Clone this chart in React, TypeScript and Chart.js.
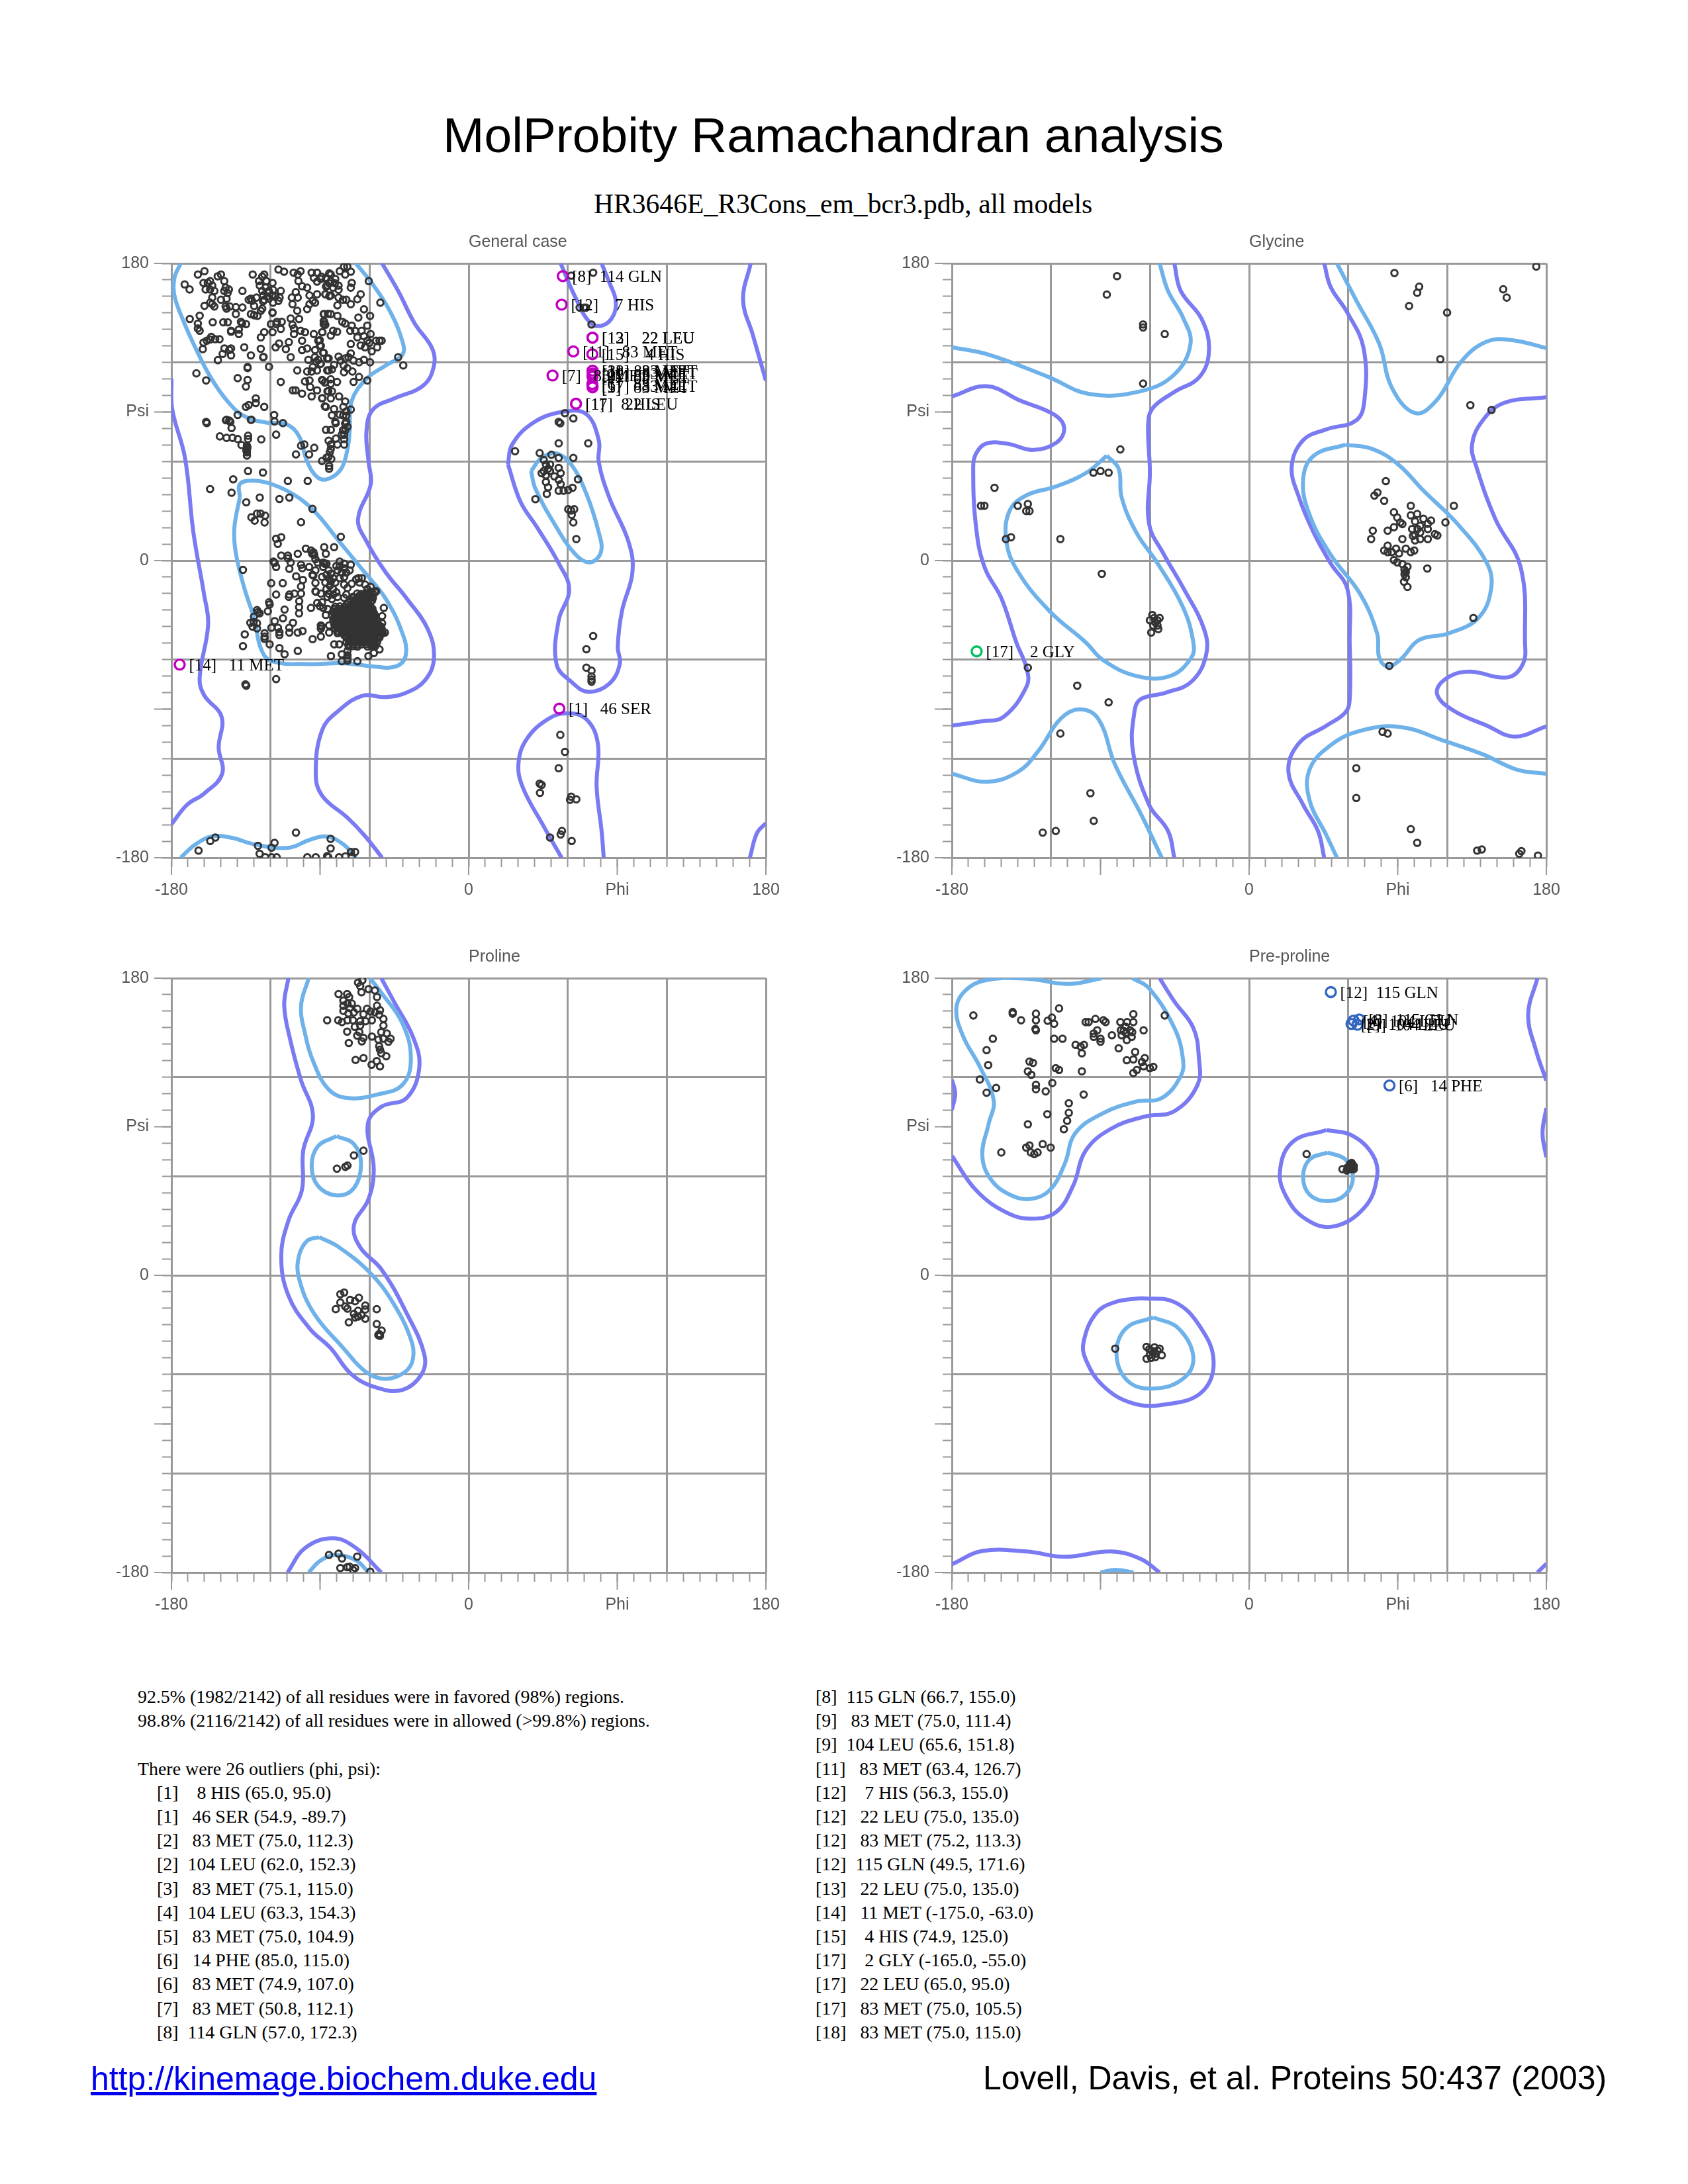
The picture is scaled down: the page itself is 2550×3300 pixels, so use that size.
import React, { useEffect, useRef } from "react";
import { Chart, registerables } from "chart.js";

Chart.register(...registerables);

type Pair = [number, number];
type Outlier = { model: number; res: string; phi: number; psi: number };

// ---------- residue points (phi, psi) ----------
const generalUpperLeft: Pair[] = [
  [-160,175.3],[-164,173.3],[-172,167.3],[-169,164.2],[-150,173.3],[-152,172.2],[-160.6,168.2],[-156.6,169.3],[-158,168.2],[-155.3,166.6],[-159.3,164.2],[-156.6,164.2],[-154,163.3],[-148,169.3],[-147.2,165.3],[-145.2,164.2],[-148,163.3],[-137,163.3],[-130.8,173.3],[-123.8,173.3],[-125,172],[-127,169.3],[-122.5,169.3],[-126.5,166.6],[-118.8,168.2],[-123,165.3],[-125,163.3],[-121,163.3],[-118.5,164],[-113.8,163.3],[-124.5,160.6],[-121.8,160],[-119,160.6],[-123.8,158],[-121,158.6],[-117,160],[-114.5,159.3],[-118.5,156.2],[-115.2,157.3],[-124.5,157],[-128.5,159.3],[-131.9,158.6],[-133.2,158],[-131.2,157.3],[-129.9,154.2],[-125,152.6],[-125.9,151.3],[-131.9,149.3],[-129.9,148.6],[-127.9,148.2],[-118.8,150.3],[-118.8,150],[-155.3,159.3],[-154,153.9],[-160,154.3],[-156.6,156.2],[-155.3,155.3],[-150,158],[-146.6,158.6],[-146,162],[-147.2,153.9],[-144.6,153.9],[-146.6,152.6],[-141,153.5],[-137,153.3],[-141,149.3],[-162.9,148.3],[-168.9,146.3],[-155,144.3],[-148.6,144.3],[-145.9,144.3],[-164,143.5],[-164,140.6],[-162.9,139.2],[-143.9,139.2],[-143.9,138.6],[-139.2,139.9],[-139.2,137.2],[-137.9,144.6],[-137.2,143.6],[-134.8,143.2],[-155.9,135.5],[-158.6,133.2],[-160.6,132.1],[-156.6,133.9],[-153.5,134.1],[-150.9,134.1],[-161,128.1],[-147.9,128.5],[-143.9,128.5],[-145,127.6],[-149,125.2],[-143.9,124.3],[-151.9,121.4],[-135.9,129.2],[-131.9,124.3],[-125.9,128.3],[-124.5,123.2],[-124.2,123.4],[-125.9,135.2],[-123.8,138.3],[-119.8,143.2],[-118.8,138.3],[-116.1,144.6],[-113.2,144.6],[-116.5,143.2],[-113.8,140.3],[-116.9,129.2],[-114.8,131.5],[-110.7,128.1],[-108.9,132.3],[-107.8,123.2],[-107.8,146.6],[-102.7,146.3],[-106.7,142.8],[-105.8,140.6],[-105.8,137.2],[-101.8,139.2],[-99.1,138.3],[-93.8,137.2],[-88.7,138.3],[-100.9,133.2],[-100.9,127.5],[-97.8,128.5],[-91.1,133.2],[-90.2,130.1],[-93,127.5],[-87.8,149.3],[-87.8,145],[-87.8,143.2],[-85.2,149.5],[-115.2,176.3],[-111.8,175],[-106,174.4],[-103.5,173.3],[-101.8,175.3],[-103.1,169.3],[-100.9,166.2],[-97.8,165.3],[-104.7,162.6],[-107.1,159.3],[-103.5,159.3],[-106.7,155.3],[-103.8,151.3],[-97.8,152.3],[-96.4,160.6],[-94.4,157.3],[-96.4,155.3],[-93,156.2],[-91.8,161.3],[-95.1,174.4],[-91.8,174.4],[-93.8,171.3],[-91.8,169],[-89.1,172],[-86.4,170.6],[-84.4,174],[-86.4,166],[-86.7,161.3],[-84.4,160.2],
  [-164.9,113.4],[-159,109.1],[-139.9,110.5],[-133.9,109.4],[-134.9,105.4],[-133.9,117.2],[-133.9,116.6],[-120.9,117.4],[-113.8,108.2],[-103.8,115.2],[-128.9,98.2],[-128.9,95.4],[-133.2,94.2],[-134.9,93.1],[-123.8,93.1],[-139.9,88.2],[-117.8,88.2],[-131.9,85.3],[-146.6,85.3],[-145,84.8],[-159,84],[-106.5,103.1],[-104.8,103.1],[-100.9,101.1],[-95.1,99.4],[-91.8,103.1],[-88.8,98.2],[-87.1,93.4],[-99.1,108.5],[-96.4,109.1],[-96,105.1],[-88.4,109.1],[-87.1,107.8],[-97.8,114.5],[-95.1,114.5],[-94.4,117.2],[-91.8,115.2],[-85.7,115.2],[-85,102.5],[-97.1,121.6],[-93.1,123.2],[-91.1,121.6],[-87.8,125.9],[-85.7,122.5],[-89.8,119.2],[-92.4,120.5],
];

const generalUpperRight: Pair[] = [
  [-75.5,178],[-73.5,178],[-78.1,175.3],[-74.8,173.3],[-71.4,175],[-60.5,169.3],[-70.8,168.2],[-71.4,165.3],[-65.4,161.3],[-67.4,158.3],[-71.4,155.3],[-74.1,158],[-76.1,158],[-79.5,154.6],[-78.8,159.3],[-83.5,160.6],[-86.8,161.3],[-53.5,156.2],[-89.5,170.6],[-86.2,171.3],[-83.5,173.3],[-83.5,169.3],[-80.8,170.6],[-78.8,166.6],[-85.5,166.6],[-82.1,165.3],[-78.8,164],[-81,168],[-84.5,168],[-63.4,152.2],[-66.8,147.2],[-59.7,148.2],[-61.4,142.3],[-87.5,149.3],[-83.5,149.3],[-79.5,148.2],[-87.5,144.6],[-86.8,142.8],[-76.5,144.6],[-74.8,143.6],[-70.8,142.3],[-71.7,139.2],[-68.8,139.2],[-64.8,139.2],[-88.6,138.3],[-82.1,139.2],[-79.7,138.6],[-83.5,136.3],[-67.4,135.2],[-63.4,135.9],[-59.4,137.2],[-61.4,133.2],[-71.4,131.2],[-65.4,130.3],[-62.8,129.2],[-60.1,131.9],[-58.7,126.8],[-55.4,129.2],[-56.1,133.2],[-52.7,133.2],[-54,133.2],[-90.2,133.5],[-89.5,130.1],[-42.7,123.2],[-39.6,118.2],[-88.2,125.9],[-84.8,122.5],[-78.8,123.6],[-71.4,125.5],[-74.8,122.5],[-72.8,123.2],[-77.5,121.2],[-69.8,121.2],[-66.4,120.1],[-63.4,121.6],[-59.7,120.1],[-89.5,119.2],[-81.5,118.5],[-82.8,115.8],[-84.8,115.2],[-75.7,118.2],[-75.5,114.1],[-73.5,116.5],[-70.4,114.5],[-66.4,111.2],[-69.7,108.2],[-61.4,109.1],[-88.8,109.4],[-86.8,108.1],[-83.5,109.8],[-83.5,107.1],[-79.7,108.2],[-85.5,102.5],[-82.8,102.5],[-78.5,99.4],[-88.6,98.4],[-83.5,98.2],[-74.8,96.4],[-86.5,93.1],[-75.9,93.1],[-71.4,91.5],[-81.5,91.8],[-82.8,88],[-78.1,88.4],[-74.1,87.8],[-74.1,90.4],[-76,88],[-80.8,84],[-74.1,84],
];

const generalMiddle: Pair[] = [
  [-158.6,83.3],[-147,85],[-144.3,84],[-143.6,80.3],[-131.6,85.3],[-117.6,84.3],[-112.5,83.3],[-116.6,76.3],[-150.7,75.2],[-146.6,74.3],[-143,74.3],[-139.9,73.6],[-137.6,70],[-133.6,75.6],[-133.6,73.6],[-125.6,73.4],[-134.3,69.6],[-134.3,67.6],[-134.3,65.6],[-134.3,63.6],[-134,68.5],[-134.6,66.6],[-101.5,69.6],[-99.5,70.3],[-93.5,68.3],[-104.6,64.3],[-96.6,64.3],[-86.4,79.2],[-83.5,79.2],[-80.5,83.3],[-84.8,72.6],[-80.4,73.9],[-79.5,70.3],[-75.4,70.3],[-74.8,83],[-76.1,79],[-74.7,79],[-75.4,76.3],[-73.4,81],[-76.8,76.3],[-75.4,73.6],[-83.5,70.3],[-83.5,67.6],[-84.1,65.6],[-84.8,62.9],[-83.2,61.6],[-88.8,60.3],[-86.1,62.3],[-84.5,57.3],[-84.5,55.6],[-133.6,54.2],[-124.6,53.3],[-142.6,49.2],[-156.6,43.3],[-143.6,41.1],[-109.5,48.2],[-97.5,48.2],[-134.7,35.3],[-126.5,38.2],[-114.6,37.3],[-108.6,38.2],[-94.6,31.3],[-131.6,26.2],[-129.6,24.2],[-128.2,28.4],[-126,28.4],[-123.3,27.2],[-123.6,23.1],[-101.5,23.2],[-77.4,14.4],[-113.5,14.1],[-116.6,13.2],[-115.6,10.1],[-81.5,8.1],[-87.5,8.1],[-98.6,7.2],[-86.5,4.1],[-103.5,4.1],[-113.5,3],[-109.5,3],[-94.8,4.1],[-95.5,6.1],[-93.5,3.4],[-92.8,0.8],[-91.5,-1.2],[-94,5],[-109.5,1.4],[-107.8,-1.2],[-118.2,-0.6],[-117.5,-1.4],[-116.6,-3.9],[-108.6,-5],[-101.5,-2.6],[-100.8,-4.6],[-96.6,-3.9],[-136.7,-5.6],[-87.2,-1.9],[-92.8,-5.9],[-94.6,-8.6],[-104.5,-9.5],[-100.4,-11.7],[-119.6,-13.7],[-112.6,-13.7],[-101.5,-15.7],[-92.8,-13.5],[-116.6,-20.6],[-108.6,-20.6],[-105.5,-20],[-101.5,-20],[-92.5,-18.9],[-108.9,-22],[-102.6,-24.6],[-120.9,-25.3],
];

const generalHelixRim: Pair[] = [
  [-88.1,-1.2],[-86.1,-1.9],[-88.1,-3.9],[-94.1,-9],[-78.1,-0.6],[-75.4,-1.9],[-71.4,-2.6],[-80.1,-3.3],[-78.1,-3.3],[-75.4,-4.6],[-72.1,-5.9],[-79.4,-5.9],[-76.8,-7.3],[-74.1,-7.3],[-75.4,-10],[-78.1,-10.6],[-84.8,-5.9],[-83.4,-7.9],[-88.8,-9.9],[-86.1,-8.6],[-82.1,-10.6],[-84.5,-10.8],[-86.8,-13.3],[-83.4,-12.6],[-80.8,-13.3],[-84.1,-15.3],[-82.1,-17.3],[-86.1,-17.3],[-84.8,-20],[-82.1,-20.6],[-80.1,-19.3],[-85.5,-22],[-82.8,-23.3],[-79.4,-22],[-75.4,-14.6],[-73.4,-16.6],[-70.8,-14],[-66.7,-10.6],[-64.7,-10.6],[-68.1,-11.3],[-66.1,-13.3],[-62.7,-14.6],[-59.4,-16],[-61.4,-17.3],[-56.7,-19.3],[-56,-18.6],[-59.4,-18.8],[-74.1,-20.6],[-75.4,-22.6],[-70.1,-22],
  [-120.5,-26.6],[-121.6,-30.7],[-111.5,-29.7],[-128.2,-30],[-127.6,-31.3],[-126.6,-32],[-130,-34],[-132.2,-37.7],[-130.2,-37.3],[-128.2,-38],[-130.9,-40],[-128.2,-41.1],[-135.6,-44.7],[-136.7,-51.8],[-123.6,-44],[-123.6,-46],[-123.6,-47.4],[-120.5,-50.7],[-119.5,-40.7],[-117.5,-36.7],[-112.5,-35],[-115.5,-40.7],[-114.6,-43.4],[-114.6,-45.1],[-108.6,-40.7],[-108.6,-43.6],[-106.4,-37.7],[-103.5,-43.6],[-100.6,-42.7],[-114.6,-53],[-111.5,-56.7],[-103.5,-54.7],[-94.5,-47.6],[-89.5,-46],[-116.6,-71.8],[-135.2,-75],[-134.7,-75.8],[-135,-75.4],[-102.7,-28.2],[-102.7,-32],[-95.5,-28.7],[-92.8,-18.6],[-89.5,-20],[-91.7,-25.7],[-88.8,-25.3],[-90.1,-27.7],[-88.1,-28.7],[-86.5,-33],[-85.5,-29.3],[-89.5,-39.3],[-89.5,-41.3],[-84.5,-39.3],[-84.5,-43.6],[-89.2,-40],[-81.4,-50.7],[-78.4,-50.7],[-83.4,-57.8],[-76.8,-56.7],[-76.8,-61],[-73.4,-54.7],[-73.4,-57.4],[-73.4,-59.4],[-73.4,-60.7],[-67.4,-61],[-60.7,-57.8],[-57.4,-56],[-54,-53.8],[-51.4,-28.7],[-52.4,-33.7],[-52.4,-38],[-50.7,-43.6],[-52,-44],[-53,-40],
];

const generalHelixCore: Pair[] = [
  [-67.5,-20],[-65,-20.3],[-62.4,-19.8],[-60,-20.2],[-58,-20],
  [-70,-22.6],[-67.3,-22.4],[-64.6,-22.8],[-62,-22.5],[-59.8,-22.7],[-58,-22.5],
  [-72.7,-25.3],[-70,-25],[-67.4,-25.5],[-64.7,-25.2],[-62,-25.4],[-59.3,-25.1],
  [-80.8,-28],[-78,-27.8],[-75.4,-28.2],[-72.7,-28],[-70,-27.8],[-67.3,-28.1],[-64.6,-28],[-62,-27.9],[-59.3,-28.2],
  [-82,-30.7],[-79.3,-30.5],[-76.6,-30.8],[-74,-30.6],[-71.3,-30.9],[-68.6,-30.6],[-66,-30.8],[-63.3,-30.5],[-60.6,-30.7],[-58,-30.8],
  [-82.8,-33.3],[-80,-33.1],[-77.4,-33.4],[-74.7,-33.2],[-72,-33.5],[-69.3,-33.2],[-66.7,-33.4],[-64,-33.1],[-61.3,-33.3],[-58.7,-33.4],[-56.7,-33.2],
  [-82,-36],[-79.4,-35.8],[-76.7,-36.2],[-74,-35.9],[-71.3,-36.1],[-68.6,-35.8],[-66,-36.2],[-63.3,-36],[-60.6,-35.8],[-58,-36.1],[-56,-36],
  [-81.4,-38.7],[-78.7,-38.5],[-76,-38.9],[-73.3,-38.6],[-70.7,-38.8],[-68,-38.5],[-65.3,-38.7],[-62.6,-38.9],[-60,-38.6],[-57.3,-38.8],[-54.7,-38.7],
  [-80.8,-41.3],[-78,-41.1],[-75.4,-41.5],[-72.7,-41.2],[-70,-41.4],[-67.4,-41.1],[-64.7,-41.3],[-62,-41.5],[-59.4,-41.2],[-56.7,-41.4],[-54,-41.3],[-52.7,-41.2],
  [-79.4,-44],[-76.7,-43.8],[-74,-44.2],[-71.4,-43.9],[-68.7,-44.1],[-66,-43.8],[-63.3,-44],[-60.7,-44.2],[-58,-43.9],[-55.3,-44.1],[-52.7,-43.8],
  [-74,-46.7],[-71.3,-46.5],[-68.6,-46.8],[-66,-46.6],[-63.3,-46.8],[-60.6,-46.5],[-58,-46.7],[-55.3,-46.9],[-54,-46.6],
  [-74,-49.4],[-71.3,-49.2],[-68.6,-49.5],[-66,-49.3],[-63.3,-49.5],[-60.6,-49.2],[-58,-49.4],[-55.4,-49.3],
  [-72.7,-52],[-70,-51.8],[-67.3,-52.1],[-61.3,-52],[-58.6,-51.8],[-56.7,-52],
];

const generalHelixCoreFill: Pair[] = [
  [-66.2,-21.3],[-63.6,-21.2],[-61,-21.4],[-58.9,-21.2],
  [-71.4,-24],[-68.7,-23.9],[-66,-24.1],[-63.3,-23.9],[-60.7,-24],[-58.5,-24.2],
  [-74,-26.7],[-71.3,-26.6],[-68.7,-26.8],[-66,-26.6],[-63.3,-26.7],[-60.6,-26.6],
  [-81.4,-29.3],[-78.7,-29.2],[-76,-29.4],[-73.3,-29.3],[-70.7,-29.4],[-68,-29.2],[-65.3,-29.4],[-62.7,-29.3],[-60,-29.4],[-58.3,-29.2],
  [-81.4,-32],[-78.7,-31.9],[-76,-32.1],[-73.3,-31.9],[-70.7,-32.1],[-68,-32],[-65.3,-31.9],[-62.7,-32.1],[-60,-32],[-57.3,-32],
  [-81.4,-34.7],[-78.7,-34.5],[-76,-34.8],[-73.3,-34.6],[-70.7,-34.7],[-68,-34.5],[-65.3,-34.8],[-62.7,-34.6],[-60,-34.7],[-57.3,-34.6],
  [-80.7,-37.3],[-78,-37.2],[-75.3,-37.4],[-72.7,-37.2],[-70,-37.4],[-67.3,-37.3],[-64.7,-37.2],[-62,-37.4],[-59.3,-37.3],[-56.7,-37.2],
  [-80,-40],[-77.4,-39.9],[-74.7,-40.1],[-72,-40],[-69.3,-39.9],[-66.7,-40.1],[-64,-40],[-61.3,-39.9],[-58.7,-40.1],[-56,-40],[-53.8,-40.2],
  [-79.5,-42.7],[-76.8,-42.5],[-74,-42.8],[-71.4,-42.6],[-68.7,-42.8],[-66,-42.6],[-63.3,-42.7],[-60.7,-42.5],[-58,-42.8],[-55.3,-42.6],[-53,-42.7],
  [-75.3,-45.3],[-72.7,-45.2],[-70,-45.4],[-67.3,-45.2],[-64.7,-45.4],[-62,-45.2],[-59.3,-45.3],[-56.7,-45.2],[-54,-45.4],
  [-72.7,-48],[-70,-47.9],[-67.3,-48.1],[-64.7,-47.9],[-62,-48.1],[-59.3,-48],[-56.7,-47.9],
  [-72.7,-50.7],[-70,-50.6],[-67.3,-50.8],[-64.7,-50.7],[-62,-50.6],[-59.3,-50.8],[-56.7,-50.6],
];

const generalBottom: Pair[] = [
  [-163.6,-175.7],[-156.5,-169.9],[-153.4,-167.8],[-127.6,-172.8],[-119.4,-173.9],[-117.6,-171],[-126.6,-177.6],[-123.2,-179.7],[-119.4,-179.7],[-116.3,-179.7],[-104.6,-164.8],[-97.7,-179.7],[-92.6,-179.7],[-85.7,-179],[-85,-179.7],[-83.6,-168.6],[-83.6,-174.4],[-78.5,-179.7],[-74.7,-179.2],[-71.3,-176.5],[-68.8,-176.5],[-70.8,-179.2],
];

const generalLeftHanded: Pair[] = [
  [75.4,174.4],[62.1,172.6],[67.2,153.2],[69.8,153.2],[71.1,153.2],[74.4,143],[58.3,89.3],[63.4,86.1],[54.5,84],[55.5,83.2],[54.5,71],[72.4,71],[28.1,66.2],[43,65.1],[50.1,64.1],[54.5,62.2],[63.4,62.2],[45.5,60.9],[46.8,58.2],[49.3,58.2],[48.1,55.6],[45.5,54.2],[44.2,52.9],[46.8,51.6],[49.3,54.2],[54.5,56.1],[55.7,52.9],[51.9,51],[54.5,48.9],[55.7,46.3],[46.8,47.6],[48.1,44.4],[47.3,40.4],[54.5,42.3],[57.5,42.3],[60.3,42.8],[62.9,44.1],[66.2,49.2],[40.4,37.2],[60.3,31.1],[63.9,31.1],[62.1,30.3],[62.4,27.7],[63.4,23.1],[65.2,13],[75.4,-45.7],[71.3,-53.7],[71.3,-64.9],[74.4,-66.7],[74.4,-70.2],[74.4,-72],[74.4,-73.4],[55.5,-105.6],[58.3,-115.9],[54.5,-125.8],[43,-135.1],[44.2,-135.9],[43.2,-140.7],[62.1,-143],[61.4,-144.9],[65.2,-144.6],[49.3,-167.8],[55.7,-165.9],[56.5,-163.8],[62.4,-169.9],
];

const glycinePoints: Pair[] = [
  [-80,172.3],[-86.2,161.1],[-64.2,143],[-64.2,141.2],[-51.1,137.2],[-64.2,107.2],[-78,67.3],[-94.3,53.2],[-90,54.2],[-85.1,53.2],[-154.2,44.1],[-162.4,33.2],[-160.3,33.2],[-140.1,33.2],[-134,34.3],[-135,30],[-133,30],[-147.3,13],[-144.2,14.1],[-114.3,13],[-89.2,-8],[-58.6,-33],[-54.2,-34.8],[-60.1,-36.2],[-55.5,-36.2],[-58,-39.4],[-55.5,-39.4],[-59.3,-43.6],[-55,-41.5],[-57.5,-34.8],[-56.8,-37.5],[-134,-64.9],[-104.1,-75.8],[-85.1,-85.9],[-114.3,-104.8],[-96.1,-140.9],[-94.1,-157.7],[-125,-164.8],[-117.1,-163.8],
  [88,174.2],[103,165.9],[101.8,162.2],[96.9,154.2],[119.9,150.2],[153.9,164.3],[156,159.3],[173.9,178.1],[115.8,122],[134,94.1],[146.8,91.2],[82.8,48.1],[75.9,39.4],[77.7,41.2],[81.8,36.2],[97.9,33.2],[124,33.2],[118.9,23.1],[87.7,29.2],[89.7,26.1],[91.5,23.1],[92.8,22.1],[87.7,20.2],[83.9,18.1],[74.9,18.1],[73.9,13],[92.8,13],[97.9,27.4],[101.8,28.2],[100.5,23.7],[105.6,25.3],[110.2,24.2],[108.2,22.3],[103.6,21],[98.7,19.1],[102,19.1],[108.2,19.1],[100.5,15.7],[103.6,17],[112.5,16],[114,15.2],[108.2,13],[103.6,13],[100.5,12.2],[99.2,14.9],[83.9,9],[81.8,6.1],[83.9,5.1],[86.4,5.1],[89,7.2],[90.8,4.3],[94.9,7.2],[97.9,5.1],[100,6.1],[87.7,0.3],[89.7,-1.1],[92.8,-2.1],[95.9,-3.7],[94.1,-5.6],[94.9,-6.9],[94.1,-8.2],[94.9,-10.1],[93.8,-12.8],[95.9,-16],[107.9,-4.8],[135.8,-34.8],[84.9,-63.8],[80.8,-103.7],[83.9,-104.8],[64.9,-125.8],[64.9,-143.8],[97.9,-162.7],[101.8,-171],[138.1,-175.7],[140.9,-175],[163.6,-177.6],[164.9,-176],[174.9,-178.7],
];

const prolinePoints: Pair[] = [
  [-67,177.3],[-64.4,178.7],[-65.7,175.2],[-64.9,171.5],[-60.6,173.4],[-56.8,172.6],[-55.5,168.6],[-78.8,170.4],[-73.6,170.4],[-72.4,168.6],[-75.9,166.4],[-73.4,164.6],[-70.8,164.6],[-75.9,163.3],[-72,161.9],[-67.4,161.4],[-75.9,160.2],[-72.8,158.7],[-69.5,159.3],[-61.6,161.4],[-63.7,158.2],[-59.4,159.8],[-55.5,163.3],[-53.7,160.6],[-56.8,159.3],[-54.2,157.9],[-51.6,155.3],[-85.7,154.5],[-79,154.5],[-76.7,153.4],[-73.4,154.5],[-70.1,154.5],[-65.7,153.9],[-62.4,153.9],[-58.6,154.5],[-69,150.5],[-65.7,151.3],[-51.6,151.3],[-73.6,147.6],[-66.2,147.3],[-67.5,145.2],[-63.7,143.8],[-58.6,144.6],[-52.9,147.3],[-49.6,146.5],[-54.7,142.8],[-51.6,143.3],[-48.6,141.5],[-47.3,143.3],[-64.7,141.7],[-72.6,140.7],[-54.2,138.8],[-53.7,136.7],[-52.9,134.5],[-49.9,132.7],[-68.5,130.5],[-63.7,131.6],[-55.7,129.8],[-58.8,127.6],[-53.7,126.6],
  [-63.7,75.5],[-69.5,72.6],[-73.4,66.5],[-74.7,65.7],[-79.8,64.6],
  [-77.7,-11.4],[-75.4,-10.4],[-66.5,-13.6],[-71.8,-14.9],[-68.8,-15.7],[-77.7,-16.5],[-74.7,-18.9],[-73.4,-20.2],[-80.5,-20.5],[-62.6,-18.3],[-62.6,-20.7],[-55.7,-20.5],[-67,-21.5],[-69.5,-23.4],[-67,-25],[-68.8,-25.5],[-64.9,-24.2],[-62.6,-26.3],[-72.6,-28.5],[-55.7,-29.5],[-52.7,-33.5],[-54.7,-36.2],[-53.7,-36.7],[-54.2,-35.6],
  [-84.6,-169.4],[-78.8,-168.6],[-76.7,-171.5],[-67.5,-170.4],[-77.7,-177.3],[-73.6,-176.8],[-72.1,-176.5],[-68.8,-177.3],[-70.1,-178.4],[-59.6,-179.5],
];

const preProlinePoints: Pair[] = [
  [-167,157.4],[-143.2,159.5],[-143.2,158.5],[-129.1,158.5],[-115.1,161.7],[-138.1,154.5],[-129.1,154.5],[-122,154.2],[-119.4,156.1],[-118.1,152.4],[-129.4,149.2],[-129.1,148.4],[-155.2,143.3],[-118.1,143.3],[-113,143.3],[-159,136.4],[-158,127.4],[-163.1,118.6],[-153.2,113.5],[-159,110.6],[-133,129.5],[-130.9,128.7],[-134,123.6],[-131.9,121.5],[-117.1,125.5],[-115.1,124.4],[-129.1,115.4],[-129.1,112.7],[-123.2,111.4],[-119.2,116.5],[-109.2,104.2],[-109.2,98.4],[-122.2,97.6],[-110.2,93.6],[-134,91.5],[-112.2,88.5],[-100.2,109.5],[-101.3,123.6],[-101.3,134.5],[-105.1,139.6],[-102,138.5],[-100,139.6],[-99,153.4],[-97.2,153.4],[-93.1,155.3],[-88.2,154.5],[-86.9,153.4],[-92,148.4],[-94.1,146.5],[-94.1,144.4],[-90,143.3],[-90,141.5],[-83.1,145.4],[-79,137.5],[-78,153.4],[-73.9,153.4],[-70.1,158.2],[-70.1,153.4],[-77.7,148.4],[-74.7,150.5],[-72.1,148.4],[-77.2,145.4],[-74.7,146.8],[-76,148],[-70.8,147.3],[-71.1,144.4],[-74.1,142.5],[-63.9,148.4],[-51.1,157.4],[-69,135.3],[-74.1,130.3],[-70.1,130.8],[-63.2,131.6],[-64.9,129.2],[-63.9,126.6],[-68,124.4],[-70.1,122.6],[-60.1,125.5],[-58,126.3],[-150.1,74.4],[-135,77.4],[-133,78.7],[-132.2,74.4],[-130.1,73.4],[-128.1,74.4],[-125,79.5],[-120.2,77.4],
  [34.8,73.4],[56.5,64.3],[59.1,63.5],[59.6,65.4],[60.9,66.7],[62.1,68.1],[63.4,66.2],[62.1,64.3],[60.9,64.3],[63.4,64.3],[61.5,66],[60.5,65.2],[62.6,67],[61.2,67.6],[59.8,64.4],
  [-81.1,-44.4],[-62.1,-43.3],[-57.3,-43.6],[-54.2,-44.4],[-59.3,-45.5],[-55.5,-45.5],[-60.1,-48.1],[-52.9,-48.4],[-56.8,-49.5],[-62.1,-50.5],[-59.3,-50],[-58,-46.8],[-60.5,-44.8],[-56.5,-47.5],
];

// ---------- outliers ----------
const generalOutliers: Outlier[] = [
  { model: 1, res: "  8 HIS", phi: 65.0, psi: 95.0 },
  { model: 1, res: " 46 SER", phi: 54.9, psi: -89.7 },
  { model: 2, res: " 83 MET", phi: 75.0, psi: 112.3 },
  { model: 3, res: " 83 MET", phi: 75.1, psi: 115.0 },
  { model: 5, res: " 83 MET", phi: 75.0, psi: 104.9 },
  { model: 6, res: " 83 MET", phi: 74.9, psi: 107.0 },
  { model: 7, res: " 83 MET", phi: 50.8, psi: 112.1 },
  { model: 8, res: "114 GLN", phi: 57.0, psi: 172.3 },
  { model: 9, res: " 83 MET", phi: 75.0, psi: 111.4 },
  { model: 11, res: " 83 MET", phi: 63.4, psi: 126.7 },
  { model: 12, res: "  7 HIS", phi: 56.3, psi: 155.0 },
  { model: 12, res: " 22 LEU", phi: 75.0, psi: 135.0 },
  { model: 12, res: " 83 MET", phi: 75.2, psi: 113.3 },
  { model: 13, res: " 22 LEU", phi: 75.0, psi: 135.0 },
  { model: 14, res: " 11 MET", phi: -175.0, psi: -63.0 },
  { model: 15, res: "  4 HIS", phi: 74.9, psi: 125.0 },
  { model: 17, res: " 22 LEU", phi: 65.0, psi: 95.0 },
  { model: 17, res: " 83 MET", phi: 75.0, psi: 105.5 },
  { model: 18, res: " 83 MET", phi: 75.0, psi: 115.0 },
];
const glycineOutliers: Outlier[] = [{ model: 17, res: "  2 GLY", phi: -165.0, psi: -55.0 }];
const prolineOutliers: Outlier[] = [];
const preProlineOutliers: Outlier[] = [
  { model: 2, res: "104 LEU", phi: 62.0, psi: 152.3 },
  { model: 4, res: "104 LEU", phi: 63.3, psi: 154.3 },
  { model: 6, res: " 14 PHE", phi: 85.0, psi: 115.0 },
  { model: 8, res: "115 GLN", phi: 66.7, psi: 155.0 },
  { model: 9, res: "104 LEU", phi: 65.6, psi: 151.8 },
  { model: 12, res: "115 GLN", phi: 49.5, psi: 171.6 },
];

// ---------- contours (phi, psi) ----------
const genFavoredBeta: Pair[] = [[-174.4,180],[-178.2,171.2],[-178.2,160.6],[-173.1,146],[-165.4,128.7],[-156.5,111.4],[-146.3,96.8],[-136,87.5],[-122,83.5],[-110.5,82.7],[-102.8,75.5],[-97.7,59.6],[-91.3,50.3],[-84.9,49.5],[-77.2,55.6],[-73.4,67.5],[-72.1,78.2],[-70.8,96.8],[-61.9,110.1],[-50.4,118.1],[-40.1,124.7],[-40.1,132.7],[-47.8,151.3],[-58,167.2],[-68.3,180]];
const genFavoredAlpha: Pair[] = [[-138.6,38.3],[-138.6,46.3],[-130.9,48.4],[-119.4,46.3],[-105.3,39.6],[-93.8,30.3],[-78.5,11.7],[-63.2,-6.9],[-50.4,-22.9],[-40.1,-44.1],[-38.1,-57.4],[-44,-64.1],[-58,-64.1],[-75.9,-62.2],[-96.4,-62.7],[-119.4,-60.9],[-125.8,-53.4],[-129.6,-36.2],[-136,-16.2],[-141.1,5.1],[-141.9,19.7],[-138.6,38.3]];
const genFavoredBottom: Pair[] = [[-174.4,-180],[-165.4,-171.9],[-155.2,-167.1],[-143.7,-167.9],[-129.6,-171.9],[-109.2,-174],[-96.4,-169.2],[-86.2,-167.1],[-75.9,-171.9],[-68.3,-180]];
const genFavoredLeft: Pair[] = [[37.8,54.2],[44.2,62.2],[53.2,64.9],[62.1,58.2],[71.1,40.9],[78.8,17],[80.1,5.1],[73.6,-1.1],[64.7,3.7],[51.9,22.3],[40.4,43.6],[37.8,54.2]];
const genAllowedMain: Pair[] = [[-52.4,180],[-42.7,163.3],[-32.5,143.3],[-22.2,128.7],[-21,118.1],[-27.4,106.1],[-45.3,98.1],[-58,91.5],[-61.9,78.2],[-60.6,59.6],[-59.3,46.3],[-67,25],[-61.9,11.7],[-50.4,-6.9],[-37.6,-22.9],[-24.8,-41.5],[-21,-58.8],[-26.1,-72.1],[-37.6,-80],[-50.4,-82.7],[-64.4,-81.9],[-78.5,-90.7],[-88.7,-102.6],[-92.6,-129.2],[-88.7,-142.5],[-73.4,-155.8],[-63.2,-166.4],[-52.4,-180]];
const genAllowedWest: Pair[] = [[-180,110.1],[-179.5,91.5],[-171.8,62.2],[-166.7,17],[-160.3,-20.2],[-157.8,-38.8],[-162.9,-70.7],[-160.3,-81.4],[-149.6,-94.7],[-151.4,-113.3],[-149.3,-129.2],[-160.3,-141.2],[-170.5,-147.9],[-180,-159.8]];
const genAllowedTop: Pair[] = [[55.7,180],[64.7,159.3],[73.6,144.1],[81.3,142.5],[87.7,148.6],[89,157.9],[85.1,168.6],[80.5,180]];
const genAllowedLeft: Pair[] = [[23.8,58.2],[26.3,70.2],[39.1,83.5],[57,90.1],[71.1,88.8],[78.8,72.9],[78.8,59.6],[85.1,38.3],[96.7,11.7],[99.2,-6.9],[92.8,-30.8],[90.3,-52.1],[91.5,-62.7],[85.1,-74.7],[72.4,-79.5],[62.1,-73.4],[53.2,-62.7],[54.5,-36.2],[60.9,-17.5],[54.5,-1.6],[41.7,19.7],[31.4,35.6],[23.8,58.2]];
const genAllowedGamma: Pair[] = [[56.3,-180],[45.5,-161.1],[32.7,-137.2],[30.2,-122.6],[35.3,-107.9],[48.1,-96],[59.6,-92.5],[71.1,-96],[78.2,-110.6],[77.5,-137.2],[80.5,-163.8],[81.8,-180]];
const genAllowedEastTop: Pair[] = [[170.8,180],[166.2,157.9],[172.1,136.7],[180,109]];
const genAllowedEastBottom: Pair[] = [[170.3,-180],[174.6,-165.1],[180,-159]];

const glyFavoredA: Pair[] = [[-180,129.2],[-157.8,124.7],[-122,111.4],[-96.4,100.8],[-65.7,102.6],[-45.3,112.7],[-35.5,131.3],[-40.1,147.3],[-49.1,163.3],[-54.2,180]];
const glyFavoredB: Pair[] = [[-86.2,63.5],[-99,52.9],[-116.9,44.9],[-134.7,39.6],[-145,30.3],[-147,11.7],[-139.9,-6.9],[-120.7,-30.8],[-99,-49.5],[-88.7,-60.1],[-68.3,-69.9],[-47.8,-69.9],[-35,-58.8],[-33.8,-49.5],[-40.1,-28.2],[-55.5,-1.6],[-68.3,17],[-77.2,38.3],[-79,55.6],[-86.2,63.5]];
const glyFavoredC: Pair[] = [[-180,-129.2],[-158.9,-134],[-139.9,-127.9],[-127.1,-114.6],[-114.3,-96],[-102.8,-90.1],[-91.3,-96],[-81.1,-123.9],[-65.7,-153.2],[-52.9,-180]];
const glyFavoredD: Pair[] = [[53.2,180],[64.7,157.9],[78.8,131.3],[86.4,104.8],[100.5,89.3],[113.3,96.8],[128.6,120.7],[144,132.7],[159.3,133.5],[180,128.7]];
const glyFavoredE: Pair[] = [[58.3,70.2],[74.9,67.5],[90.3,58.2],[105.6,42.3],[126.1,22.3],[144,-1.6],[146.5,-17.5],[138.8,-34.8],[120.9,-44.1],[103,-48.1],[91.5,-60.1],[83.9,-64.1],[78.8,-58.8],[77.5,-44.1],[67.2,-20.2],[49.3,3.7],[36.6,27.7],[32.7,48.9],[39.1,63.5],[58.3,70.2]];
const glyFavoredF: Pair[] = [[180,-129.2],[162.1,-126.6],[141.4,-117.3],[118.4,-109.3],[91.5,-100.8],[67.2,-103.2],[49.3,-111.9],[36.6,-126.6],[36.6,-145.2],[46.8,-166.4],[53.2,-180]];
const glyAllowedA: Pair[] = [[-180,99.4],[-158.9,105.6],[-138.4,96.8],[-117.9,88.3],[-112,80.3],[-116.6,71.5],[-130.7,67],[-146,70.7],[-158.9,71],[-165.3,64.9],[-167.1,56.9],[-165.3,19.7],[-160.1,-4.3],[-150,-22.9],[-141,-49.5],[-134.7,-65.5],[-134.7,-76.1],[-148.7,-94.7],[-161.5,-97.3],[-180,-100]];
const glyAllowedB: Pair[] = [[-45.3,180],[-41.4,163.3],[-28.6,146],[-24.3,127.4],[-29.9,111.4],[-45.3,102.1],[-58,92.8],[-61.1,83.5],[-60.1,54.2],[-60.6,22.3],[-51.6,3.7],[-40.1,-16.2],[-27.3,-41.5],[-26.1,-57.4],[-35,-73.4],[-50.4,-80],[-65.7,-84],[-69.5,-91.9],[-70.3,-115.9],[-60.6,-147.9],[-49.1,-163.8],[-45.3,-180]];
const glyAllowedC: Pair[] = [[45.5,180],[49.3,165.9],[59.6,150],[69.3,128.7],[69.8,96.8],[64.7,84.8],[46.8,79.5],[32.7,72.9],[25.8,56.9],[30.2,38.3],[39.1,17],[49.3,-1.6],[59.6,-17.5],[60.9,-49.5],[60.9,-84],[58.3,-92],[46.8,-100],[30.2,-110.6],[23.8,-127.9],[32.7,-147.9],[41.7,-163.8],[45.5,-180]];
const glyAllowedD: Pair[] = [[180,98.9],[154.4,95.5],[141.4,84.8],[135,70.2],[137.6,56.9],[149.2,25],[164.5,-4.3],[167.1,-49.5],[165.8,-62.7],[156.7,-70.7],[132.5,-67.3],[118.4,-72.1],[113.8,-80.8],[123.5,-90.7],[144,-100],[160.6,-106.6],[180,-100.5]];

const proFavoredA: Pair[] = [[-96.9,180],[-101.5,163.3],[-99,146],[-93.8,128.7],[-84.9,112.7],[-73.4,107.4],[-55.5,109.5],[-40.1,115.4],[-35,131.3],[-40.1,152.6],[-52.9,171.2],[-59.8,180]];
const proFavoredB: Pair[] = [[-80,84.3],[-69.5,79.5],[-65.2,67.5],[-69.5,52.9],[-80,48.4],[-91.3,54.2],[-95.1,66.2],[-91.3,78.2],[-80,84.3]];
const proFavoredC: Pair[] = [[-90.5,23.1],[-78.5,17],[-59.3,1.1],[-45.3,-17.5],[-35,-38.8],[-33.8,-50.8],[-38.9,-58.8],[-50.4,-62.7],[-61.9,-58.8],[-75.9,-44.1],[-93.8,-22.9],[-102.8,-1.6],[-102.8,11.7],[-97.7,21],[-90.5,23.1]];
const proFavoredD: Pair[] = [[-96.9,-180],[-90,-173],[-81,-169.4],[-68.3,-172.6],[-60.6,-180]];
const proAllowedA: Pair[] = [[-109.2,180],[-111.7,163.3],[-107.9,142],[-101.5,118.1],[-94.3,96.8],[-100.2,75.5],[-101,51.6],[-109.2,33],[-113.5,11.7],[-109.2,-12.2],[-96.4,-32.1],[-83.6,-44.1],[-70.8,-60.1],[-55.5,-68.1],[-40.1,-69.4],[-28.6,-60.1],[-26.8,-48.2],[-37.6,-22.9],[-52.9,3.7],[-65.7,17],[-69.5,30.3],[-60.6,46.3],[-57.5,64.9],[-61.1,91.5],[-52.9,102.1],[-37.6,107.4],[-29.9,126],[-33.8,144.6],[-45.3,165.9],[-52.9,180]];
const proAllowedB: Pair[] = [[-109.7,-180],[-99,-165.1],[-82.3,-159.3],[-68.3,-165.1],[-52.9,-180]];

const preFavoredA: Pair[] = [[-89.2,180],[-109.2,176.5],[-134.7,179.7],[-160.3,178.6],[-173.1,171.2],[-177.4,160.6],[-173.1,144.6],[-162.9,126],[-154.7,106.1],[-157.8,91.5],[-161.6,72.9],[-156.5,58.2],[-145,48.9],[-132.2,46.3],[-120.7,51.6],[-111.7,67.5],[-105.3,86.1],[-88.7,98.1],[-68.3,105.3],[-52.9,107.4],[-41.4,120.7],[-40.1,131.3],[-45.3,149.9],[-60.6,173.9],[-70.8,180]];
const preFavoredB: Pair[] = [[47.6,74.4],[58.3,70.2],[62.9,59.6],[58.3,48.9],[47.6,44.9],[36.6,48.9],[32.7,59.6],[36.6,70.2],[47.6,74.4]];
const preFavoredC: Pair[] = [[-58,-25.5],[-42.7,-32.2],[-33.8,-49.5],[-40.1,-62.7],[-58,-68.6],[-73.4,-64.1],[-80.3,-48.1],[-74.7,-32.2],[-58,-25.5]];
const preFavoredD: Pair[] = [[-90,-180],[-81,-178.4],[-70,-180]];
const preAllowedA: Pair[] = [[-54.2,180],[-45.3,165.9],[-33.8,149.9],[-30.4,131.3],[-31.2,115.4],[-45.3,99.4],[-63.2,96.2],[-83.6,88.8],[-99,75.5],[-106.6,54.2],[-116.9,38.3],[-132.2,34.3],[-147.5,38.3],[-165.4,51.6],[-180,72.4]];
const preAllowedB: Pair[] = [[-180,118.6],[-178,110.1],[-180,100.2]];
const preAllowedC: Pair[] = [[180,118],[173.6,136.7],[169,158],[174.6,180]];
const preAllowedD: Pair[] = [[180,101.3],[177.7,86.1],[180,71.5]];
const preAllowedE: Pair[] = [[46.8,88],[62.1,84.8],[74.9,72.9],[77.5,59.6],[69.8,41],[50.6,29.5],[34,34.3],[22.5,47.6],[18.7,63.5],[26.3,80.8],[46.8,88]];
const preAllowedF: Pair[] = [[-65.7,-13.8],[-45.3,-16.2],[-29.9,-30.8],[-21.5,-52.1],[-28.6,-70.7],[-50.4,-78.2],[-70.8,-77.4],[-88.7,-66.7],[-99,-50.8],[-100.2,-40.1],[-92.6,-22.9],[-81.1,-16.2],[-65.7,-13.8]];
const preAllowedG: Pair[] = [[-180,-175],[-161.6,-167],[-134.7,-167.3],[-111.7,-170.5],[-83.6,-167.3],[-65.7,-171.8],[-54.2,-180]];
const preAllowedH: Pair[] = [[180,-174.7],[174.6,-180]];

// ---------- text ----------
const mainTitle = "MolProbity Ramachandran analysis";
const subTitle = "HR3646E_R3Cons_em_bcr3.pdb, all models";
const summaryLines = [
  "92.5% (1982/2142) of all residues were in favored (98%) regions.",
  "98.8% (2116/2142) of all residues were in allowed (>99.8%) regions.",
  "",
  "There were 26 outliers (phi, psi):",
];
const leftList = [
  "[1]    8 HIS (65.0, 95.0)",
  "[1]   46 SER (54.9, -89.7)",
  "[2]   83 MET (75.0, 112.3)",
  "[2]  104 LEU (62.0, 152.3)",
  "[3]   83 MET (75.1, 115.0)",
  "[4]  104 LEU (63.3, 154.3)",
  "[5]   83 MET (75.0, 104.9)",
  "[6]   14 PHE (85.0, 115.0)",
  "[6]   83 MET (74.9, 107.0)",
  "[7]   83 MET (50.8, 112.1)",
  "[8]  114 GLN (57.0, 172.3)",
];
const rightList = [
  "[8]  115 GLN (66.7, 155.0)",
  "[9]   83 MET (75.0, 111.4)",
  "[9]  104 LEU (65.6, 151.8)",
  "[11]   83 MET (63.4, 126.7)",
  "[12]    7 HIS (56.3, 155.0)",
  "[12]   22 LEU (75.0, 135.0)",
  "[12]   83 MET (75.2, 113.3)",
  "[12]  115 GLN (49.5, 171.6)",
  "[13]   22 LEU (75.0, 135.0)",
  "[14]   11 MET (-175.0, -63.0)",
  "[15]    4 HIS (74.9, 125.0)",
  "[17]    2 GLY (-165.0, -55.0)",
  "[17]   22 LEU (65.0, 95.0)",
  "[17]   83 MET (75.0, 105.5)",
  "[18]   83 MET (75.0, 115.0)",
];
const linkText = "http://kinemage.biochem.duke.edu";
const citation = "Lovell, Davis, et al. Proteins 50:437 (2003)";

const SANS = '"Liberation Sans", Arial, sans-serif';
const SERIF = '"Liberation Serif", "Times New Roman", serif';
const FAVORED = "#6fb2ea";
const ALLOWED = "#7a7af2";
const GRID = "#999999";
const INK = "#333333";

const toXY = (p: Pair[]) => p.map(([x, y]) => ({ x, y }));

const TICK_LABELS_X: Record<number, string> = { [-180]: "-180", 0: "0", 90: "Phi", 180: "180" };
const TICK_LABELS_Y: Record<number, string> = { [-180]: "-180", 0: "0", 90: "Psi", 180: "180" };
const LONG_TICKS = [-180, -90, 0, 90, 180];

const PAD_LEFT = 110;
const PAD_TOP = 60;
const PAD_RIGHT = 50;
const PAD_BOTTOM = 70;
const PLOT = 898;

type PanelProps = {
  left: number;
  top: number;
  title: string;
  points: Pair[];
  favored: Pair[][];
  allowed: Pair[][];
  outliers: Outlier[];
  outlierColor: string;
};

function Panel({ left, top, title, points, favored, allowed, outliers, outlierColor }: PanelProps) {
  const ref = useRef<HTMLCanvasElement | null>(null);
  useEffect(() => {
    if (!ref.current) return;
    const line = (data: Pair[], color: string, order: number) => ({
      type: "scatter" as const,
      data: toXY(data),
      showLine: true,
      tension: 0.4,
      capBezierPoints: false,
      borderColor: color,
      borderWidth: 6,
      pointRadius: 0,
      pointHoverRadius: 0,
      fill: false,
      order,
    });
    const annotate = {
      id: "ramaAnnotate",
      beforeDatasetsDraw(chart: any) {
        const c = chart.ctx;
        const xs = chart.scales.x;
        const ys = chart.scales.y;
        c.save();
        c.strokeStyle = GRID;
        c.lineWidth = 2;
        LONG_TICKS.forEach((v) => {
          const px = xs.getPixelForValue(v);
          c.beginPath();
          c.moveTo(px, ys.bottom);
          c.lineTo(px, ys.bottom + 26);
          c.stroke();
          const py = ys.getPixelForValue(v);
          c.beginPath();
          c.moveTo(xs.left - 26, py);
          c.lineTo(xs.left, py);
          c.stroke();
        });
        c.fillStyle = "#555555";
        c.font = `25px ${SANS}`;
        c.textAlign = "left";
        c.textBaseline = "middle";
        c.fillText(title, xs.getPixelForValue(0), ys.top - 32);
        c.restore();
      },
      afterDatasetsDraw(chart: any) {
        const c = chart.ctx;
        const xs = chart.scales.x;
        const ys = chart.scales.y;
        c.save();
        c.fillStyle = "#000000";
        c.font = `25px ${SERIF}`;
        c.textAlign = "left";
        c.textBaseline = "middle";
        outliers.forEach((o) => {
          const text = `[${o.model}]  ${o.res}`;
          c.fillText(text, xs.getPixelForValue(o.phi) + 14, ys.getPixelForValue(o.psi) + 2);
        });
        c.restore();
      },
    };
    const axis = () => ({
      type: "linear" as const,
      min: -180,
      max: 180,
      border: { display: false },
      grid: {
        drawTicks: true,
        tickLength: 14,
        tickColor: GRID,
        tickWidth: 2,
        lineWidth: 3,
        color: (ctx: any) => (ctx.tick && ctx.tick.value % 60 === 0 ? GRID : "rgba(0,0,0,0)"),
      },
    });
    const chart = new Chart(ref.current, {
      type: "scatter",
      data: {
        datasets: [
          {
            data: outliers.map((o) => ({ x: o.phi, y: o.psi })),
            pointRadius: 7.5,
            pointBorderWidth: 3.4,
            pointBorderColor: outlierColor,
            pointBackgroundColor: "rgba(0,0,0,0)",
            order: 0,
          },
          {
            data: toXY(points),
            pointRadius: 4.8,
            pointBorderWidth: 3,
            pointBorderColor: INK,
            pointBackgroundColor: "rgba(0,0,0,0)",
            order: 1,
          },
          ...favored.map((d) => line(d, FAVORED, 2)),
          ...allowed.map((d) => line(d, ALLOWED, 3)),
        ] as any,
      },
      options: {
        responsive: false,
        animation: false,
        devicePixelRatio: 1,
        events: [],
        layout: {
          autoPadding: false,
          padding: { left: 0, top: PAD_TOP, right: PAD_RIGHT, bottom: 0 },
        },
        plugins: { legend: { display: false }, tooltip: { enabled: false }, title: { display: false } },
        scales: {
          x: {
            ...axis(),
            afterFit: (s: any) => {
              s.height = PAD_BOTTOM;
            },
            ticks: {
              stepSize: 10,
              autoSkip: false,
              maxRotation: 0,
              minRotation: 0,
              padding: 20,
              color: "#555555",
              font: { family: SANS, size: 25 },
              callback: (v: any) => TICK_LABELS_X[v as number] ?? "",
            },
          },
          y: {
            ...axis(),
            afterFit: (s: any) => {
              s.width = PAD_LEFT;
            },
            ticks: {
              stepSize: 10,
              autoSkip: false,
              padding: 20,
              color: "#555555",
              font: { family: SANS, size: 25 },
              callback: (v: any) => TICK_LABELS_Y[v as number] ?? "",
            },
          },
        },
      } as any,
      plugins: [annotate] as any,
    });
    return () => chart.destroy();
  }, []);
  return (
    <canvas
      ref={ref}
      width={PAD_LEFT + PLOT + PAD_RIGHT}
      height={PAD_TOP + PLOT + PAD_BOTTOM}
      style={{
        position: "absolute",
        left: left - PAD_LEFT,
        top: top - PAD_TOP,
        width: PAD_LEFT + PLOT + PAD_RIGHT,
        height: PAD_TOP + PLOT + PAD_BOTTOM,
      }}
    />
  );
}

function Line({ x, y, text, font, size, color = "#000" }: any) {
  return (
    <div
      style={{
        position: "absolute",
        left: x,
        top: y,
        whiteSpace: "pre",
        fontFamily: font,
        fontSize: size,
        lineHeight: `${size}px`,
        color,
      }}
    >
      {text}
    </div>
  );
}

export default function App() {
  const LINE = 36.2;
  const y0 = 2550;
  return (
    <div style={{ position: "absolute", left: 0, top: 0, width: 2550, height: 3300, background: "#fff", overflow: "hidden" }}>
      <Line x={669} y={167} text={mainTitle} font={SANS} size={75} />
      <Line x={897} y={288} text={subTitle} font={SERIF} size={41.6} />
      <Panel
        left={259}
        top={398}
        title="General case"
        points={[...generalUpperLeft, ...generalUpperRight, ...generalMiddle, ...generalHelixRim, ...generalHelixCore, ...generalHelixCoreFill, ...generalBottom, ...generalLeftHanded]}
        favored={[genFavoredBeta, genFavoredAlpha, genFavoredBottom, genFavoredLeft]}
        allowed={[genAllowedMain, genAllowedWest, genAllowedTop, genAllowedLeft, genAllowedGamma, genAllowedEastTop, genAllowedEastBottom]}
        outliers={generalOutliers}
        outlierColor="#c000c0"
      />
      <Panel
        left={1438}
        top={398}
        title="Glycine"
        points={glycinePoints}
        favored={[glyFavoredA, glyFavoredB, glyFavoredC, glyFavoredD, glyFavoredE, glyFavoredF]}
        allowed={[glyAllowedA, glyAllowedB, glyAllowedC, glyAllowedD]}
        outliers={glycineOutliers}
        outlierColor="#00c060"
      />
      <Panel
        left={259}
        top={1478}
        title="Proline"
        points={prolinePoints}
        favored={[proFavoredA, proFavoredB, proFavoredC, proFavoredD]}
        allowed={[proAllowedA, proAllowedB]}
        outliers={prolineOutliers}
        outlierColor="#c000c0"
      />
      <Panel
        left={1438}
        top={1478}
        title="Pre-proline"
        points={preProlinePoints}
        favored={[preFavoredA, preFavoredB, preFavoredC, preFavoredD]}
        allowed={[preAllowedA, preAllowedB, preAllowedC, preAllowedD, preAllowedE, preAllowedF, preAllowedG, preAllowedH]}
        outliers={preProlineOutliers}
        outlierColor="#3366c0"
      />
      {summaryLines.map((t, i) => (
        <Line key={"s" + i} x={208} y={y0 + i * LINE} text={t} font={SERIF} size={27.9} />
      ))}
      {leftList.map((t, i) => (
        <Line key={"l" + i} x={237} y={y0 + (i + 4) * LINE} text={t} font={SERIF} size={27.9} />
      ))}
      {rightList.map((t, i) => (
        <Line key={"r" + i} x={1232} y={y0 + i * LINE} text={t} font={SERIF} size={27.9} />
      ))}
      <div
        style={{
          position: "absolute",
          left: 137,
          top: 3111,
          whiteSpace: "pre",
          fontFamily: SANS,
          fontSize: 50,
          lineHeight: "60px",
          color: "#0000ee",
          textDecoration: "underline",
        }}
      >
        {linkText}
      </div>
      <Line x={1485} y={3115} text={citation} font={SANS} size={50} />
    </div>
  );
}
